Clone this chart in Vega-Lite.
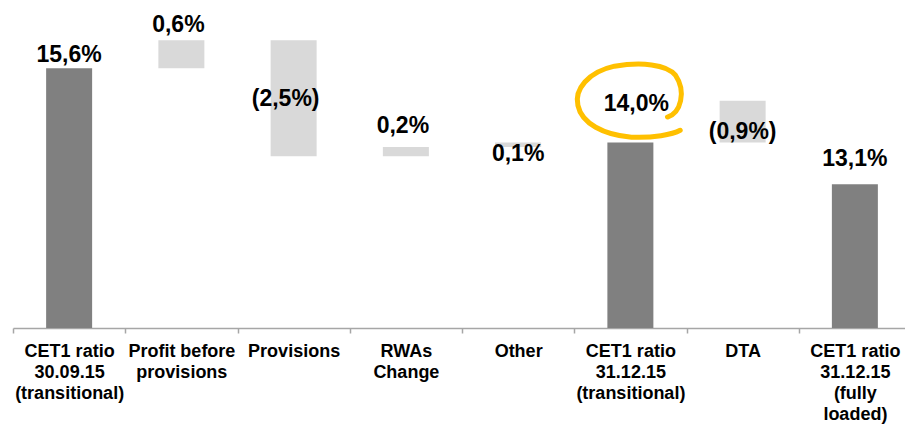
{
  "$schema": "https://vega.github.io/schema/vega-lite/v6.json",
  "width": 892,
  "height": 328,
  "autosize": {"type": "none"},
  "padding": {"left": 13, "top": 0, "right": 0, "bottom": 96},
  "background": "white",
  "config": {
    "view": {"stroke": null},
    "font": "Liberation Sans",
    "axis": {
      "title": null,
      "grid": false,
      "domainColor": "#A6A6A6",
      "domainWidth": 1.5,
      "tickColor": "#A6A6A6",
      "tickWidth": 1.5,
      "tickSize": 5,
      "tickBand": "extent",
      "labelFont": "Liberation Sans",
      "labelFontWeight": "bold",
      "labelFontSize": 18,
      "labelColor": "#000000",
      "labelLineHeight": 21,
      "labelPadding": 9,
      "labelAngle": 0,
      "labelBaseline": "top",
      "labelOverlap": false,
      "labelLimit": 0
    }
  },
  "data": {
    "values": [
      {"step": "CET1 ratio\n30.09.15\n(transitional)", "start": 10, "end": 15.6, "kind": "total", "label": "15,6%"},
      {"step": "Profit before\nprovisions", "start": 15.6, "end": 16.2, "kind": "change", "label": "0,6%"},
      {"step": "Provisions", "start": 16.2, "end": 13.7, "kind": "change", "label": "(2,5%)"},
      {"step": "RWAs\nChange", "start": 13.7, "end": 13.9, "kind": "change", "label": "0,2%"},
      {"step": "Other", "start": 13.9, "end": 14.0, "kind": "change", "label": "0,1%"},
      {"step": "CET1 ratio\n31.12.15\n(transitional)", "start": 10, "end": 14.0, "kind": "total", "label": "14,0%", "highlight": true},
      {"step": "DTA", "start": 14.9, "end": 14.0, "kind": "change", "label": "(0,9%)"},
      {"step": "CET1 ratio\n31.12.15\n(fully\nloaded)", "start": 10, "end": 13.1, "kind": "total", "label": "13,1%"}
    ]
  },
  "encoding": {
    "x": {
      "field": "step",
      "type": "nominal",
      "sort": null,
      "scale": {"type": "band", "range": [0, 898], "paddingInner": 0, "paddingOuter": 0},
      "axis": {"labelExpr": "split(datum.label, '\\n')"}
    }
  },
  "layer": [
    {
      "mark": {"type": "bar", "width": 46},
      "encoding": {
        "y": {"field": "start", "type": "quantitative", "scale": {"domain": [10, 17.07], "zero": false, "nice": false}, "axis": null},
        "y2": {"field": "end"},
        "color": {"field": "kind", "type": "nominal", "scale": {"domain": ["total", "change"], "range": ["#808080", "#D9D9D9"]}, "legend": null}
      }
    },
    {
      "mark": {
        "type": "text",
        "font": "Liberation Sans",
        "fontWeight": "bold",
        "fontSize": 23,
        "color": "#000000",
        "baseline": "alphabetic",
        "align": "center",
        "dy": {"expr": "({'15,6%': -6, '0,6%': -8, '(2,5%)': -50, '0,2%': -14, '0,1%': 19, '14,0%': -31, '(0,9%)': -3, '13,1%': -18})[datum.label]"},
        "dx": {"expr": "({'(2,5%)': -8, '14,0%': 6, '0,6%': -3, '0,2%': -3})[datum.label] || 0"}
      },
      "encoding": {
        "y": {"field": "end", "type": "quantitative"},
        "text": {"field": "label"}
      }
    },
    {
      "transform": [{"filter": "datum.highlight === true"}],
      "mark": {
        "type": "point",
        "shape": "M0.70,0.30 C0.95,0.22 1.06,-0.18 0.85,-0.49 C0.68,-0.70 0.20,-0.74 -0.30,-0.66 C-0.80,-0.55 -1.06,-0.22 -0.99,0.08 C-0.92,0.42 -0.50,0.64 0.02,0.68 C0.42,0.70 0.80,0.63 0.94,0.55",
        "size": 11236,
        "filled": false,
        "stroke": "#FFC000",
        "strokeWidth": 5,
        "strokeCap": "round",
        "opacity": 1
      },
      "encoding": {
        "y": {"datum": 14.89, "type": "quantitative"}
      }
    }
  ]
}
